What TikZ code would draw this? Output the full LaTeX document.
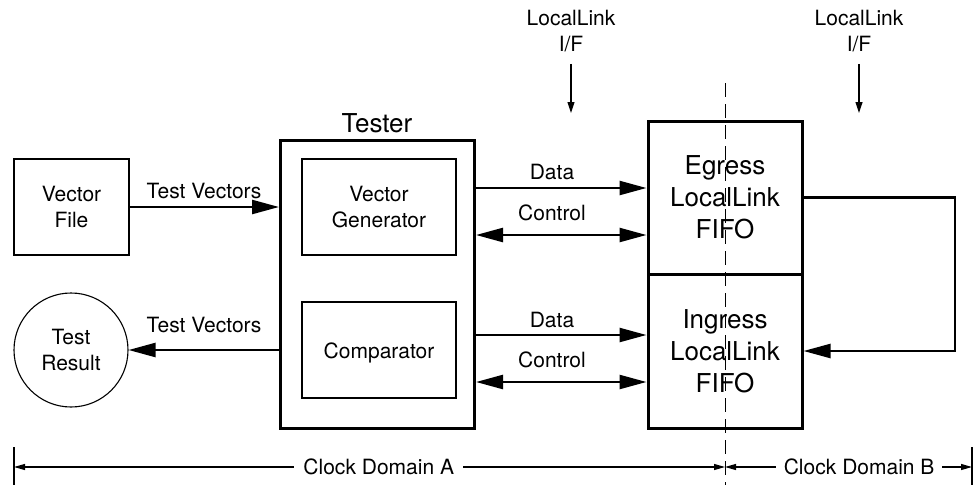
\documentclass[tikz,border=0pt]{standalone}
\usepackage{fontspec}
\setmainfont{TeX Gyre Heros}
\usetikzlibrary{arrows.meta,calc}

\tikzset{
  lbl/.style={inner sep=0pt, font=\fontsize{21}{25.5}\selectfont, align=center},
  biglbl/.style={inner sep=0pt, font=\fontsize{26}{32}\selectfont, align=center},
  thinbox/.style={draw, line width=1.1pt, inner sep=0pt},
  thickbox/.style={draw, line width=3pt, inner sep=0pt},
  bigarr/.style={line width=2.4pt, -{Triangle[length=27pt,width=14pt]}},
  bigdbl/.style={line width=2.4pt, {Triangle[length=27pt,width=14pt]}-{Triangle[length=27pt,width=14pt]}},
  smallarr/.style={line width=1.1pt, -{Triangle[length=11pt,width=7pt]}},
  dimarr/.style={line width=1.1pt, {Triangle[length=11pt,width=6pt]}-{Triangle[length=11pt,width=6pt]}},
}

\begin{document}
\begin{tikzpicture}[x=1pt, y=-1pt]
  \useasboundingbox (0,0) rectangle (974,485);

  % source and sink
  \node[thinbox, minimum width=115pt, minimum height=96pt] (vf) at (71.5,207) {};
  \node[lbl] at (vf.center) {Vector\\File};
  \node[draw, circle, line width=1.1pt, minimum size=114pt, inner sep=0pt] (tr) at (71,350) {};
  \node[lbl] at (tr.center) {Test\\Result};

  % tester block
  \node[thickbox, minimum width=194pt, minimum height=288pt] (tester) at (377.5,284) {};
  \node[biglbl, anchor=base] at (377,132) {Tester};
  \node[thinbox, minimum width=154pt, minimum height=96pt] (vg) at (379,207) {};
  \node[lbl] at (vg.center) {Vector\\Generator};
  \node[thinbox, minimum width=154pt, minimum height=96pt] (cmp) at (379,350) {};
  \node[lbl, anchor=base] at (379,358) {Comparator};

  % FIFOs
  \node[thickbox, minimum width=154pt, minimum height=153pt] (eg) at (725,197.5) {};
  \node[biglbl] at (eg.center) {Egress\\LocalLink\\FIFO};
  \node[thickbox, minimum width=154pt, minimum height=154pt] (ig) at (725,351) {};
  \node[biglbl] at (ig.center) {Ingress\\LocalLink\\FIFO};

  % test vector paths
  \draw[bigarr] (vf.east) -- (vf.east -| tester.west);
  \node[lbl, anchor=base] at (204,198) {Test Vectors};
  \draw[bigarr] (tester.west |- tr.east) -- (tr.east);
  \node[lbl, anchor=base] at (204,332) {Test Vectors};

  % data and control buses
  \draw[bigarr] (tester.east |- 0,188) -- (eg.west |- 0,188);
  \node[lbl, anchor=base] at (552,179) {Data};
  \draw[bigdbl] (tester.east |- 0,235) -- (eg.west |- 0,235);
  \node[lbl, anchor=base] at (552,220) {Control};
  \draw[bigarr] (tester.east |- 0,335) -- (ig.west |- 0,335);
  \node[lbl, anchor=base] at (552,327) {Data};
  \draw[bigdbl] (tester.east |- 0,382) -- (ig.west |- 0,382);
  \node[lbl, anchor=base] at (552,367) {Control};

  % loopback
  \coordinate (loop) at (955,198);
  \draw[bigarr] (eg.east) -- (eg.east -| loop) |- (ig.east);

  % LocalLink interface markers
  \node[lbl] (lla) at (571,31) {LocalLink\\I/F};
  \coordinate (llatip) at (571,113);
  \draw[smallarr] ([yshift=-12pt]lla.south) -- (llatip);
  \node[lbl] (llb) at (859,31) {LocalLink\\I/F};
  \coordinate (llbtip) at (859,113);
  \draw[smallarr] ([yshift=-12pt]llb.south) -- (llbtip);

  % clock domains
  \coordinate (cl) at (14,467);
  \coordinate (cm) at (725,467);
  \coordinate (cr) at (972,467);
  \draw[line width=1.1pt] (14,447) -- (14,485);
  \draw[line width=1.1pt] (972,447) -- (972,485);
  \draw[dimarr] (cl) -- (cm) node[pos=0.513, lbl, fill=white, inner xsep=9pt, inner ysep=2pt] {Clock Domain A};
  \draw[dimarr] (cm) -- (cr) node[pos=0.543, lbl, fill=white, inner xsep=8pt, inner ysep=2pt] {Clock Domain B};

  % clock domain boundary
  \draw[line width=1pt, dash pattern=on 14pt off 7pt] (725,83) -- (725,485);
\end{tikzpicture}
\end{document}
